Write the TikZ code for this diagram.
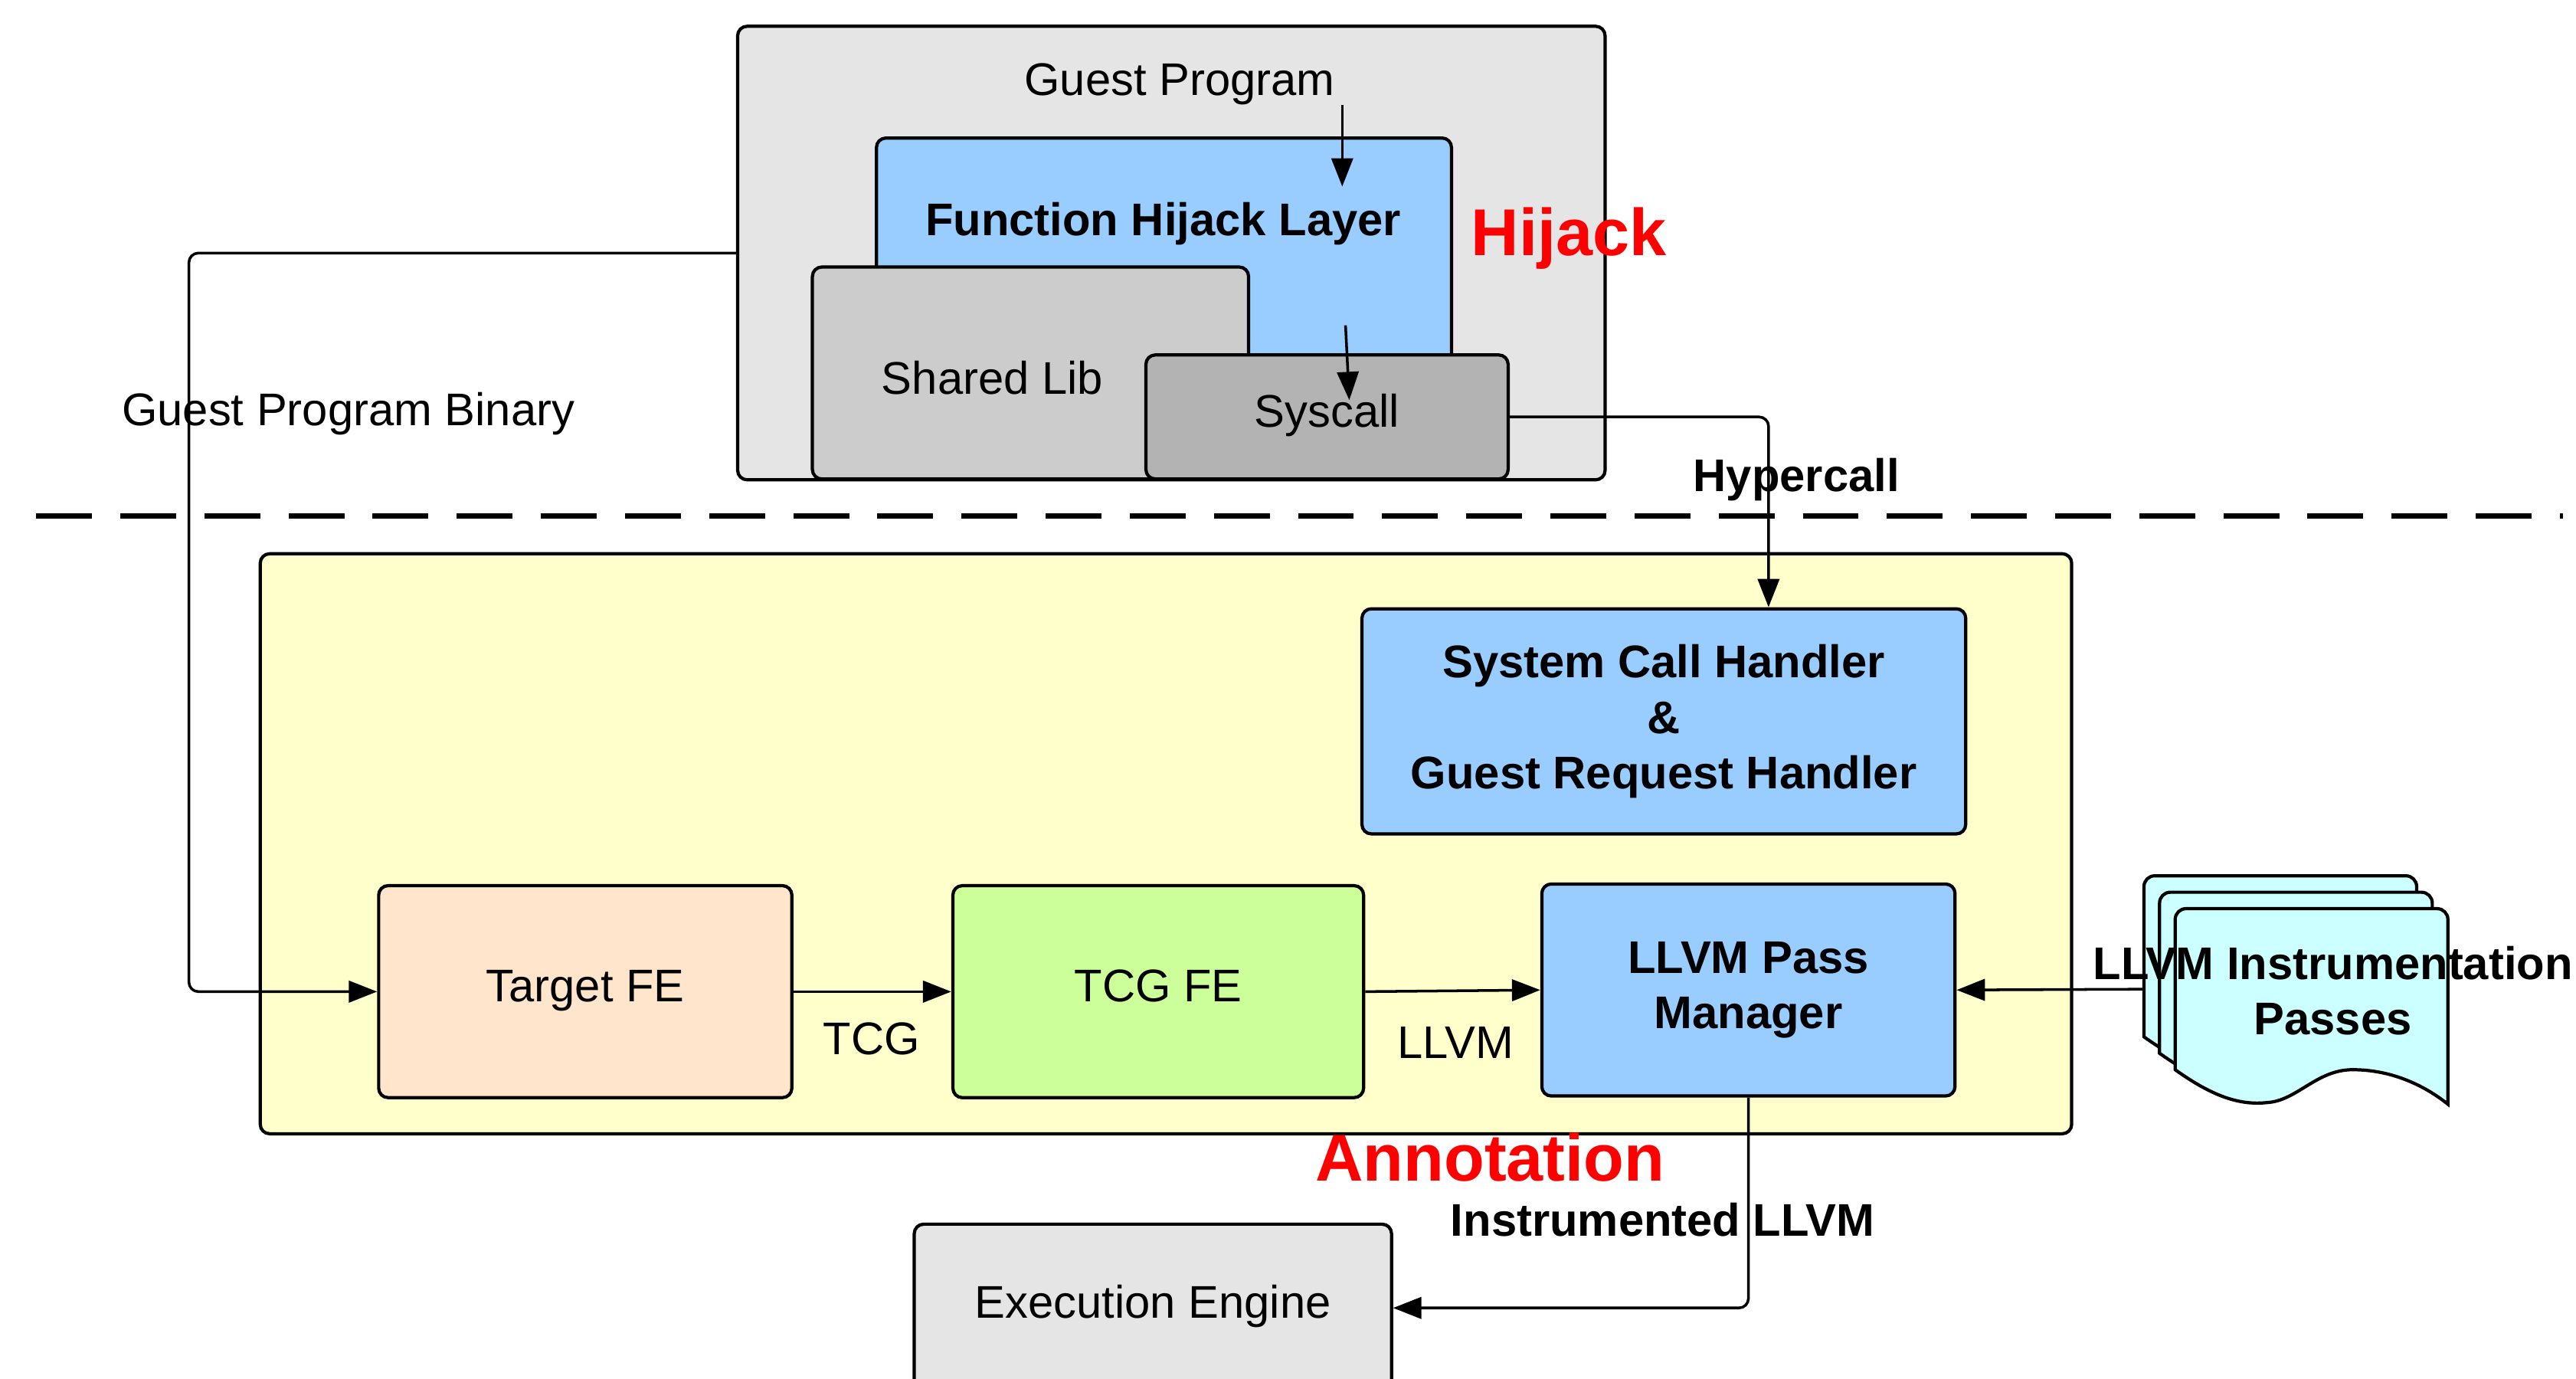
\documentclass[tikz,border=0pt]{standalone}
\usepackage{fontspec}
\setmainfont{Liberation Sans}
\usepackage{tikz}
\usetikzlibrary{arrows.meta}
\tikzset{>={Triangle[length=10.5pt,width=8pt]}}
\def\pxu{0.2145mm}

\definecolor{guestgray}{HTML}{E5E5E5}
\definecolor{libgray}{HTML}{CCCCCC}
\definecolor{callgray}{HTML}{B3B3B3}
\definecolor{hijackblue}{HTML}{99CCFF}
\definecolor{annoyellow}{HTML}{FFFFCC}
\definecolor{targetpeach}{HTML}{FFE5CC}
\definecolor{tcggreen}{HTML}{CCFF99}
\definecolor{passcyan}{HTML}{CCFFFF}

\tikzset{
  box/.style={draw=black, line width=1.2pt, rounded corners=3.5pt, inner sep=0pt},
  conn/.style={line width=1pt, rounded corners=3.5pt},
  txt/.style={font=\fontsize{17}{20.5}\selectfont, align=center, inner sep=0pt},
  boxtxt/.style={txt, text height=12.4pt, text depth=5.1pt},
  btxt/.style={txt, font=\fontsize{17}{20.5}\selectfont\bfseries},
  redtxt/.style={font=\fontsize{24.6}{29}\selectfont\bfseries, text=red, inner sep=0pt},
}

\begin{document}
\begin{tikzpicture}[x=\pxu, y=-\pxu]

\useasboundingbox (0,0) rectangle (1568,839);
\clip (0,0) rectangle (1568,839);

    % Separator
    \draw[line width=1.9pt, dash pattern=on 20.75pt off 10.5pt] (22,314) -- (1560,314);

    % Hijack side
    \node[box, fill=guestgray, minimum width=528*\pxu, minimum height=276*\pxu] (guest) at (713,154) {};
    \node[txt] (guesttitle) at (718,51) {Guest Program};
    \node[box, fill=hijackblue, minimum width=350*\pxu, minimum height=166*\pxu] (fhl) at (708.5,167) {};
    \node[btxt] (fhltitle) at (708,136) {Function Hijack Layer};
    \node[box, fill=libgray, minimum width=265.5*\pxu, minimum height=129*\pxu] (shlib) at (627.25,227) {};
    \node[txt] (shlibtitle) at (604,230) {Shared Lib};
    \node[box, boxtxt, fill=callgray, minimum width=220.5*\pxu, minimum height=75.5*\pxu] (syscall) at (807.75,253.75) {Syscall};

    % Annotation side
    \node[box, fill=annoyellow, minimum width=1102.6*\pxu, minimum height=353*\pxu] (anno) at (709.7,513.5) {};
    \node[box, btxt, fill=hijackblue, minimum width=367.5*\pxu, minimum height=137*\pxu] (handler) at (1012.75,439) {System Call Handler\\\&\\Guest Request Handler};
    \node[box, boxtxt, fill=targetpeach, minimum width=251.5*\pxu, minimum height=129*\pxu] (targetfe) at (356.25,603.5) {Target FE};
    \node[box, boxtxt, fill=tcggreen, minimum width=250*\pxu, minimum height=129*\pxu] (tcgfe) at (705,603.5) {TCG FE};
    \node[box, btxt, fill=hijackblue, minimum width=251.5*\pxu, minimum height=129*\pxu] (passmgr) at (1064.25,602.5) {LLVM Pass\\Manager};

    % Instrumentation passes (stack of pages)
    \foreach \dx/\dy in {-19/-20, -9.5/-10, 0/0}{
        \filldraw[line width=1.2pt, fill=passcyan, shift={(\dx,\dy)}] (1324,651) [rounded corners=4pt] -- (1324,553) -- (1490,553) [sharp corners] -- (1490,672) .. controls (1475,660) and (1455,651) .. (1432,651) .. controls (1410,651) and (1398,670) .. (1380,671) .. controls (1362,673) and (1345,666) .. cycle;
    }
    \coordinate (passin) at (1305,602);

    % Execution engine
    \node[box, boxtxt, fill=guestgray, minimum width=290.5*\pxu, minimum height=102*\pxu] (engine) at (701.75,796) {Execution Engine};

    % Labels
    \node[txt] (binlabel) at (212,252) {Guest Program Binary};
    \node[btxt] (hyperlabel) at (1093.5,292) {Hypercall};
    \node[txt] (tcglabel) at (530.5,632) {TCG};
    \node[txt] (llvmlabel) at (886,634.5) {LLVM};
    \node[btxt] (instlabel) at (1012,742.5) {Instrumented LLVM};
    \node[redtxt] (hijacklabel) at (955,145) {Hijack};
    \node[redtxt] (annolabel) at (907,704.5) {Annotation};

    % Connectors
    \coordinate (binx) at (115,0);
    \coordinate (hyperx) at (1076.5,0);
    \coordinate (gpstart) at (817,64);
    \coordinate (gpend) at (817,113.5);
    \coordinate (fhlstart) at (819,198);
    \coordinate (fhlend) at (821.3,243.5);

    \draw[conn,->] (gpstart) -- (gpend);
    \draw[conn,->] (fhlstart) -- (fhlend);
    \draw[conn,->] (guest.west) -- (guest.west -| binx) |- (targetfe.west);
    \draw[conn,->] (syscall.east) -| (hyperx |- handler.north);
    \draw[conn,->] (targetfe.east) -- (tcgfe.west);
    \draw[conn,->] (tcgfe.east) -- (passmgr.west);
    \draw[conn,->] (passin) -- (passmgr.east);
    \draw[conn,->] (passmgr.south) |- (engine.east);

    \node[btxt] (passlabel) at (1420,603) {LLVM Instrumentation\\Passes};

\end{tikzpicture}
\end{document}
